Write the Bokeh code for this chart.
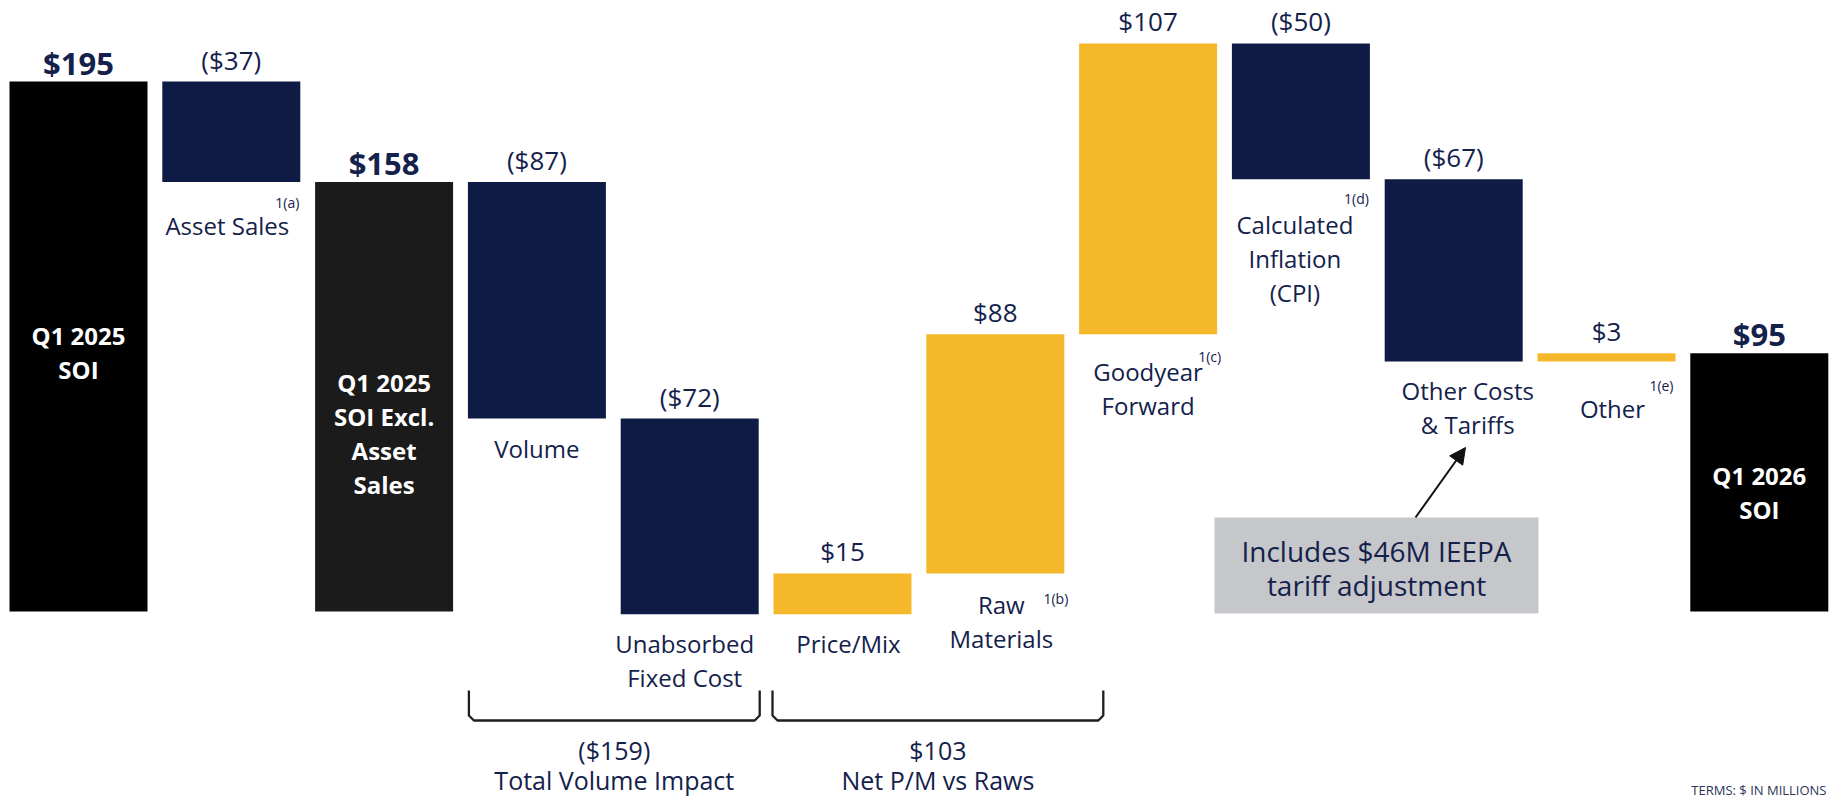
from bokeh.plotting import figure
from bokeh.models import ColumnDataSource, Range1d, Arrow, NormalHead
from bokeh.core.properties import value
from bokeh.embed import file_html
from bokeh.resources import INLINE

# ---------------- data ----------------
categories = ["Q1 2025 SOI", "Asset Sales", "Q1 2025 SOI Excl. Asset Sales", "Volume",
              "Unabsorbed Fixed Cost", "Price/Mix", "Raw Materials", "Goodyear Forward",
              "Calculated Inflation (CPI)", "Other Costs & Tariffs", "Other", "Q1 2026 SOI"]
values = [195, -37, 158, -87, -72, 15, 88, 107, -50, -67, 3, 95]
is_total = [True, False, True, False, False, False, False, False, False, False, False, True]
below_labels = [[], ["Asset Sales"], [], ["Volume"], ["Unabsorbed", "Fixed Cost"], ["Price/Mix"],
                ["Raw", "Materials"], ["Goodyear", "Forward"], ["Calculated", "Inflation", "(CPI)"],
                ["Other Costs", "& Tariffs"], ["Other"], []]
inside_labels = [["Q1 2025", "SOI"], [], ["Q1 2025", "SOI Excl.", "Asset", "Sales"], [], [], [], [], [],
                 [], [], [], ["Q1 2026", "SOI"]]
footnotes = ["", "1(a)", "", "", "", "", "1(b)", "1(c)", "1(d)", "", "1(e)", ""]
group_names = ["Total Volume Impact", "Net P/M vs Raws"]
group_members = [[3, 4], [5, 6]]
callout_lines = ["Includes $46M IEEPA", "tariff adjustment"]
footer_text = "TERMS: $ IN MILLIONS"

# ---------------- style / layout ----------------
NAVY = "#0E1C45"
GOLD = "#F5B82B"
TOTAL_COLORS = ["#000000", "#1B1B1B", "#000000"]
TEXT = "#14214B"
FONT = "Open Sans"

W, H, OFF = 1831, 797, 0
X0, PITCH, BAR_W = 78.0, 152.8, 138.0      # page px of first bar centre, bar pitch, bar width
BASE, PPU = 611.0, 2.7179                   # page px of zero line, px per $M
LINE = 34

below_gap = [0, 43, 0, 30, 29, 29, 31, 37, 45, 29, 47, 0]
below_dx = [0, -4, 0, 0, -5, 6, 6, 0, -6, 14, 6, 0]
inside_gap = [254, 0, 200, 0, 0, 0, 0, 0, 0, 0, 0, 122]
fn_dx = [0, -1, 0, 0, 0, 0, 4, 4, -1, 0, -2, 0]
fn_dy = [0, 20, 0, 0, 0, 0, 25, 22, 19, 0, 24, 0]
group_pad = [(1, 1), (-1, 39)]
BRACKET_TOP, BRACKET_BOTTOM = 690, 720
GROUP_TEXT_Y = [749, 779]
CALLOUT_BOX = (1214, 1538, 517, 613)        # left, right, top, bottom (page px)
ARROW_TAIL, ARROW_HEAD = (1415, 517), (1465, 447)
FOOTER_POS = (1826, 789)                    # right-aligned


def dx(px):
    return (px - X0) / PITCH


def dy(py):
    return (BASE - py) / PPU


def fmt(v):
    return f"${v}" if v >= 0 else f"(${-v})"


# ---------------- waterfall geometry ----------------
bottoms, tops, colors = [], [], []
run = 0
tc = list(TOTAL_COLORS)
for v, t in zip(values, is_total):
    if t:
        b, e = 0, v
        run = v
        colors.append(tc.pop(0))
    else:
        b, e = run, run + v
        run += v
        colors.append(GOLD if v > 0 else NAVY)
    bottoms.append(min(b, e))
    tops.append(max(b, e))

idx = list(range(len(categories)))
src = ColumnDataSource(dict(x=idx, bottom=bottoms, top=tops, color=colors, cat=categories))

p = figure(width=W, height=H, output_backend="svg", toolbar_location=None,
           x_range=Range1d(dx(OFF), dx(OFF + W)), y_range=Range1d(dy(OFF + H), dy(OFF)),
           min_border=0, outline_line_color=None, background_fill_color="white",
           border_fill_color="white")
p.xaxis.visible = False
p.yaxis.visible = False
p.grid.visible = False

p.vbar(x="x", bottom="bottom", top="top", width=BAR_W / PITCH, fill_color="color",
       line_color=None, source=src)


# ---------------- texts ----------------
def add_text(rows, size, bold=False, color=TEXT, align="center", baseline="middle"):
    if not rows:
        return
    d = dict(x=[r[0] for r in rows], y=[r[1] for r in rows], text=[r[2] for r in rows],
             xo=[r[3] for r in rows], yo=[r[4] for r in rows])
    p.text(x="x", y="y", text="text", x_offset="xo", y_offset="yo", source=ColumnDataSource(d),
           text_font=value(FONT), text_font_size=f"{size}px",
           text_font_style="bold" if bold else "normal", text_color=color,
           text_align=align, text_baseline=baseline)


val_bold, val_reg = [], []
for i, v in enumerate(values):
    if is_total[i]:
        val_bold.append((i, tops[i], fmt(v), 0, -19))
    else:
        val_reg.append((i, tops[i], fmt(v), 0, -22))
add_text(val_bold, 31, bold=True)
add_text(val_reg, 26)

below = []
for i, lines in enumerate(below_labels):
    for k, s in enumerate(lines):
        below.append((i, bottoms[i], s, below_dx[i], below_gap[i] + k * LINE))
add_text(below, 24)

inside = []
for i, lines in enumerate(inside_labels):
    for k, s in enumerate(lines):
        inside.append((i, tops[i], s, 0, inside_gap[i] + k * LINE))
add_text(inside, 24, bold=True, color="white")

fns = []
for i, s in enumerate(footnotes):
    if s:
        fns.append((i, bottoms[i], s, BAR_W / 2 + fn_dx[i], fn_dy[i]))
add_text(fns, 14, align="right")

# ---------------- group brackets ----------------
bxs, bys, gtext = [], [], []
r = 5
for g, (members, (lp, rp)) in enumerate(zip(group_members, group_pad)):
    lpx = X0 + min(members) * PITCH - BAR_W / 2 + lp
    rpx = X0 + max(members) * PITCH + BAR_W / 2 + rp
    bxs.append([dx(lpx), dx(lpx), dx(lpx + r), dx(rpx - r), dx(rpx), dx(rpx)])
    bys.append([dy(BRACKET_TOP), dy(BRACKET_BOTTOM - r), dy(BRACKET_BOTTOM), dy(BRACKET_BOTTOM),
                dy(BRACKET_BOTTOM - r), dy(BRACKET_TOP)])
    cx = dx((lpx + rpx) / 2)
    total = sum(values[m] for m in members)
    gtext.append((cx, dy(GROUP_TEXT_Y[0]), fmt(total), 0, 0))
    gtext.append((cx, dy(GROUP_TEXT_Y[1]), group_names[g], 0, 0))
p.multi_line(xs=bxs, ys=bys, line_color="#1E1E1E", line_width=2.3, line_join="round")
add_text(gtext, 25)

# ---------------- callout ----------------
l, rr, t, b = CALLOUT_BOX
p.quad(left=[dx(l)], right=[dx(rr)], top=[dy(t)], bottom=[dy(b)], fill_color="#C6C7CA",
       line_color=None)
ct = []
for k, s in enumerate(callout_lines):
    ct.append((dx((l + rr) / 2), dy(t + 33 + k * LINE), s, 0, 0))
add_text(ct, 28)
p.add_layout(Arrow(x_start=dx(ARROW_TAIL[0]), y_start=dy(ARROW_TAIL[1]),
                   x_end=dx(ARROW_HEAD[0]), y_end=dy(ARROW_HEAD[1]),
                   line_color="#111111", line_width=2,
                   end=NormalHead(size=16, fill_color="#111111", line_color="#111111")))

# ---------------- footer ----------------
add_text([(dx(FOOTER_POS[0]), dy(FOOTER_POS[1]), footer_text, 0, 0)], 13, color="#2B3557",
         align="right")

open("out.html", "w").write(file_html(p, INLINE))
